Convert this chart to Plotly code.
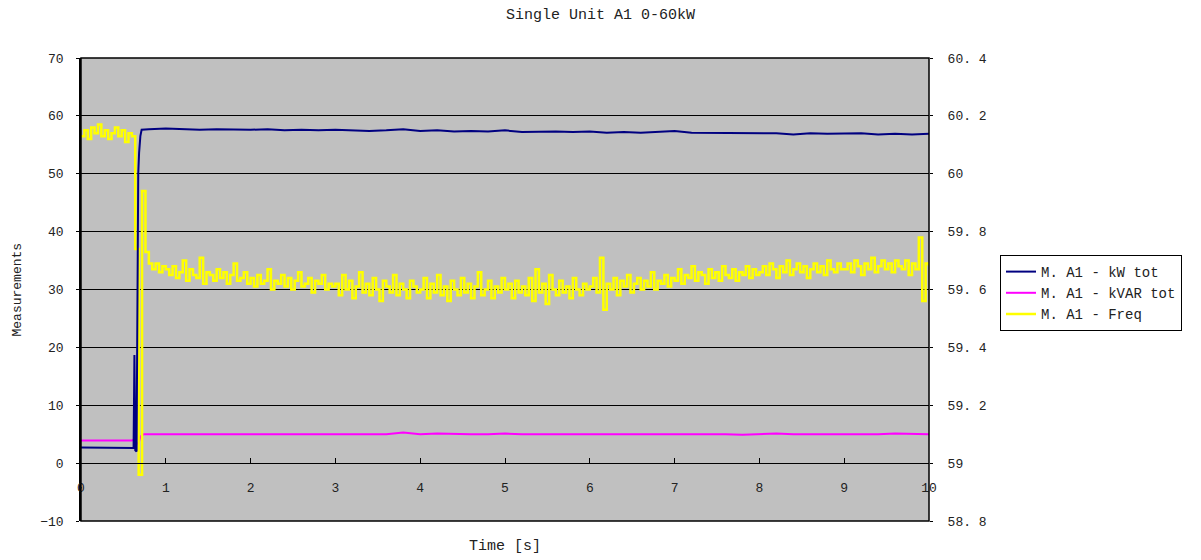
import plotly.graph_objects as go

# Frequency samples (Hz), one every FREQ_DT seconds starting at t = 0
FREQ_DT = 0.04
freq_hz = [
    # 0.00 - 0.96 s
    60.13, 60.15, 60.12, 60.16, 60.14, 60.17, 60.13, 60.15, 60.12, 60.14,
    60.16, 60.13, 60.15, 60.11, 60.14, 60.13, 59.74, 58.96, 59.94, 59.73,
    59.69, 59.67, 59.69, 59.66, 59.68,
    # 1.00 - 1.96 s
    59.67, 59.65, 59.68, 59.64, 59.66, 59.70, 59.63, 59.67, 59.65, 59.64,
    59.71, 59.62, 59.66, 59.65, 59.63, 59.67, 59.64, 59.66, 59.62, 59.65,
    59.69, 59.63, 59.64, 59.66, 59.62,
    # 2.00 - 2.96 s
    59.64, 59.61, 59.65, 59.62, 59.63, 59.67, 59.60, 59.63, 59.62, 59.65,
    59.61, 59.64, 59.60, 59.63, 59.66, 59.61, 59.62, 59.64, 59.59, 59.63,
    59.62, 59.65, 59.60, 59.62, 59.61,
    # 3.00 - 3.96 s
    59.62, 59.58, 59.65, 59.60, 59.63, 59.57, 59.61, 59.66, 59.59, 59.62,
    59.58, 59.64, 59.60, 59.56, 59.63, 59.61, 59.59, 59.65, 59.58, 59.62,
    59.60, 59.57, 59.63, 59.61, 59.59,
    # 4.00 - 4.96 s
    59.60, 59.64, 59.57, 59.62, 59.59, 59.65, 59.58, 59.61, 59.56, 59.63,
    59.60, 59.58, 59.64, 59.59, 59.62, 59.57, 59.61, 59.66, 59.58, 59.60,
    59.63, 59.57, 59.61, 59.59, 59.64,
    # 5.00 - 5.96 s
    59.60, 59.62, 59.57, 59.63, 59.59, 59.61, 59.58, 59.64, 59.56, 59.67,
    59.59, 59.62, 59.55, 59.65, 59.60, 59.58, 59.63, 59.59, 59.61, 59.57,
    59.64, 59.60, 59.58, 59.62, 59.60,
    # 6.00 - 6.96 s
    59.61, 59.64, 59.59, 59.71, 59.53, 59.62, 59.60, 59.64, 59.58, 59.63,
    59.61, 59.65, 59.59, 59.62, 59.64, 59.60, 59.63, 59.61, 59.66, 59.60,
    59.63, 59.62, 59.65, 59.61, 59.64,
    # 7.00 - 7.96 s
    59.63, 59.67, 59.62, 59.65, 59.64, 59.68, 59.63, 59.66, 59.65, 59.62,
    59.67, 59.64, 59.66, 59.63, 59.68, 59.65, 59.64, 59.67, 59.63, 59.66,
    59.65, 59.68, 59.64, 59.67, 59.65,
    # 8.00 - 8.96 s
    59.66, 59.68, 59.65, 59.69, 59.67, 59.64, 59.68, 59.66, 59.70, 59.65,
    59.67, 59.69, 59.66, 59.68, 59.64, 59.67, 59.69, 59.66, 59.68, 59.65,
    59.70, 59.67, 59.66, 59.69, 59.67,
    # 9.00 - 10.00 s
    59.67, 59.69, 59.66, 59.70, 59.68, 59.65, 59.69, 59.67, 59.71, 59.66,
    59.68, 59.70, 59.67, 59.69, 59.66, 59.70, 59.68, 59.67, 59.70, 59.65,
    59.69, 59.67, 59.78, 59.56, 59.69, 59.68,
]
freq_t = [round(i * FREQ_DT, 2) for i in range(len(freq_hz))]

# Steady-state sample times shared by the power channels (0.8 s .. 10 s, every 0.2 s)
tail_t = [round(0.8 + 0.2 * i, 1) for i in range(47)]

# Active power (kW): step-up transient followed by the steady tail
kw_step_t = [0.0, 0.62, 0.63, 0.64, 0.655, 0.665, 0.675, 0.685, 0.70, 0.715, 0.76]
kw_step = [2.7, 2.6, 18.7, 2.2, 2.0, 37.2, 50.0, 53.6, 56.5, 57.6, 57.7]
kw_tail = [
    57.7, 57.8, 57.7, 57.6, 57.7, 57.6, 57.6, 57.7, 57.5, 57.6,
    57.5, 57.6, 57.5, 57.4, 57.5, 57.7, 57.4, 57.5, 57.3, 57.4,
    57.3, 57.5, 57.2, 57.3, 57.3, 57.2, 57.3, 57.1, 57.2, 57.1,
    57.2, 57.4, 57.1, 57.1, 57.0, 57.1, 57.0, 57.0, 56.8, 57.0,
    56.9, 56.9, 57.0, 56.8, 56.9, 56.8, 56.9,
]

# Reactive power (kVAR)
kvar_step_t = [0.0, 0.60, 0.63, 0.65, 0.68, 0.70, 0.74]
kvar_step = [3.9, 3.9, 4.1, 3.3, 3.5, 4.6, 5.0]
kvar_tail = [
    5.0, 5.1, 5.0, 5.0, 5.1, 5.0, 5.0, 5.0, 5.1, 5.0,
    5.0, 5.0, 5.1, 5.0, 5.0, 5.3, 5.0, 5.1, 5.0, 5.0,
    5.0, 5.1, 5.0, 5.0, 5.0, 5.1, 5.0, 5.0, 5.0, 5.0,
    5.1, 5.0, 5.0, 5.0, 5.0, 4.9, 5.0, 5.1, 5.0, 5.0,
    5.0, 5.0, 4.9, 5.0, 5.1, 5.0, 5.0,
]

x_ticks = list(range(0, 11))
left_ticks = list(range(-10, 71, 10))
right_ticks = [58.8, 59.0, 59.2, 59.4, 59.6, 59.8, 60.0, 60.2, 60.4]
right_tick_text = ["58. 8", "59", "59. 2", "59. 4", "59. 6", "59. 8", "60", "60. 2", "60. 4"]

LEFT_RANGE = [-10, 70]
FONT = "Liberation Mono"
TEXT = "#222222"

fig = go.Figure()

fig.add_trace(go.Scatter(
    x=kvar_step_t + tail_t, y=kvar_step + kvar_tail, name="M. A1 - kVAR tot",
    mode="lines", line=dict(color="#FF00FF", width=2), yaxis="y", legendrank=2,
))
fig.add_trace(go.Scatter(
    x=freq_t, y=freq_hz, name="M. A1 - Freq",
    mode="lines", line=dict(color="#FFFF00", width=2.5, shape="hv"), yaxis="y2", legendrank=3,
))
fig.add_trace(go.Scatter(
    x=kw_step_t + tail_t, y=kw_step + kw_tail, name="M. A1 - kW tot",
    mode="lines", line=dict(color="#000080", width=2), yaxis="y3", legendrank=1,
))

# Plot-area frame
fig.add_shape(type="rect", xref="paper", yref="paper", x0=0, y0=0, x1=1, y1=1,
              line=dict(color="black", width=1.5), fillcolor="rgba(0,0,0,0)", layer="above")

fig.add_annotation(text="Time [s]", xref="paper", yref="paper", x=0.5, y=(521 - 546) / 463,
                   xanchor="center", yanchor="middle",
                   showarrow=False, font=dict(family=FONT, size=15, color=TEXT))
fig.add_annotation(text="Measurements", xref="paper", yref="paper", x=(17 - 81) / 848, y=0.5,
                   xanchor="center", yanchor="middle",
                   textangle=-90, showarrow=False, font=dict(family=FONT, size=13, color=TEXT))

fig.update_layout(
    width=1201, height=560,
    margin=dict(l=81, r=272, t=58, b=39, pad=0),
    paper_bgcolor="white", plot_bgcolor="#C0C0C0",
    font=dict(family=FONT, size=13, color=TEXT),
    title=dict(text="Single Unit A1 0-60kW", x=0.5, xref="container", xanchor="center",
               y=1 - 14 / 560, yref="container", yanchor="middle",
               font=dict(family=FONT, size=15, color=TEXT)),
    xaxis=dict(
        domain=[0, 1], range=[0, 10], tickvals=x_ticks, anchor="free",
        position=(0 - LEFT_RANGE[0]) / (LEFT_RANGE[1] - LEFT_RANGE[0]),
        showline=True, linecolor="black", linewidth=1,
        ticks="inside", ticklen=5, tickcolor="black",
        showgrid=False, zeroline=False, ticklabelstandoff=12,
        tickfont=dict(family=FONT, size=13, color=TEXT),
    ),
    yaxis=dict(
        range=LEFT_RANGE, tickvals=left_ticks, showgrid=True, gridcolor="black",
        gridwidth=1, zeroline=False, showline=True, linecolor="black", linewidth=1.5,
        ticks="outside", ticklen=3, tickcolor="black", ticklabelstandoff=10,
        tickfont=dict(family=FONT, size=13, color=TEXT),
    ),
    yaxis2=dict(
        range=[58.8, 60.4], overlaying="y", side="right", tickvals=right_ticks,
        ticktext=right_tick_text, showgrid=False, zeroline=False,
        ticks="outside", ticklen=3, tickcolor="black", ticklabelstandoff=12,
        tickfont=dict(family=FONT, size=13, color=TEXT),
    ),
    yaxis3=dict(
        range=LEFT_RANGE, overlaying="y", visible=False,
    ),
    legend=dict(
        x=(1000 - 81) / 848, y=(521 - 255) / 463, xanchor="left", yanchor="top",
        bgcolor="white", bordercolor="black", borderwidth=1,
        font=dict(family=FONT, size=14, color=TEXT), tracegroupgap=0,
        traceorder="normal",
    ),
    showlegend=True,
)

fig.write_html("out.html")
